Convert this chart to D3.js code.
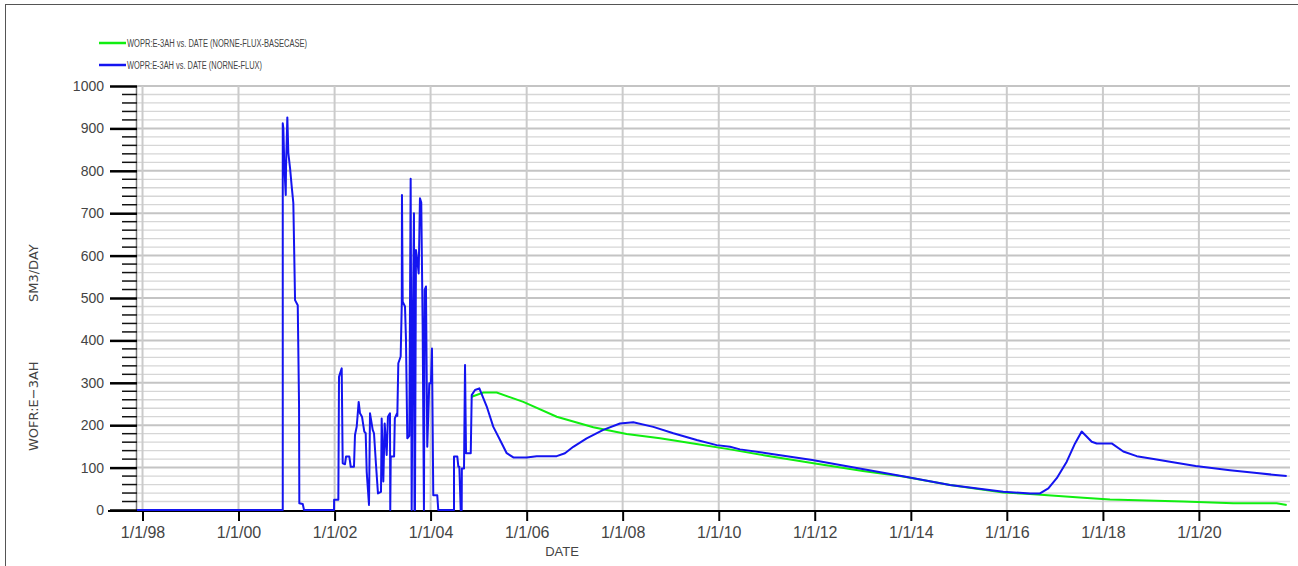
<!DOCTYPE html>
<html>
<head>
<meta charset="utf-8">
<script src="https://cdn.jsdelivr.net/npm/d3@7"></script>
<style>
  html, body { margin: 0; padding: 0; background: #fff; }
  svg { display: block; }
  .narrow { font-family: "Liberation Sans Narrow", "Arial Narrow", "Liberation Sans", sans-serif; }
</style>
</head>
<body>
<svg id="chart" width="1298" height="566"></svg>
<script>
// ---- data (decimal years, SM3/DAY) ----
const seriesNames = ["WOPR:E-3AH vs. DATE (NORNE-FLUX-BASECASE)", "WOPR:E-3AH vs. DATE (NORNE-FLUX)"];
const seriesColors = ["#10ee10", "#1414f0"];
const yLabelParts = ["WOFR:E\u22123AH", "SM3/DAY"];
const xLabelText = "DATE";
const xTickYears = [1998, 2000, 2002, 2004, 2006, 2008, 2010, 2012, 2014, 2016, 2018, 2020];
const yTickValues = [0, 100, 200, 300, 400, 500, 600, 700, 800, 900, 1000];
const xDomainYears = [1997.885, 2021.896];

const baseYears = [2004.855, 2005.097, 2005.376, 2005.930, 2006.626, 2007.388, 2008.083, 2008.777, 2009.470,
  2010.235, 2011.0, 2012.04, 2013.0, 2013.84, 2014.816, 2015.926, 2016.482, 2017.592, 2018.148, 2019.674,
  2020.715, 2021.619, 2021.827];
const baseValues = [267, 277, 277, 255, 220, 195, 179, 169, 157,
  143, 128, 109, 92, 79, 59, 41, 38, 29, 25, 20,
  16, 16, 12];

const fluxYears = [1997.885, 2000.920, 2000.920, 2000.932, 2000.953, 2000.982, 2000.988, 2001.015, 2001.036, 2001.072,
  2001.107, 2001.140, 2001.176, 2001.232, 2001.259, 2001.265, 2001.336, 2001.363, 2001.988, 2001.990,
  2002.078, 2002.092, 2002.113, 2002.148, 2002.169, 2002.217, 2002.238, 2002.307, 2002.336, 2002.404,
  2002.425, 2002.461, 2002.502, 2002.529, 2002.571, 2002.619, 2002.648, 2002.669, 2002.717, 2002.738,
  2002.794, 2002.821, 2002.863, 2002.904, 2002.967, 2002.981, 2003.015, 2003.044, 2003.085, 2003.112,
  2003.154, 2003.160, 2003.170, 2003.240, 2003.255, 2003.300, 2003.307, 2003.328, 2003.377, 2003.400,
  2003.404, 2003.419, 2003.467, 2003.487, 2003.515, 2003.557, 2003.585, 2003.596, 2003.606, 2003.627,
  2003.654, 2003.665, 2003.675, 2003.696, 2003.723, 2003.752, 2003.779, 2003.806, 2003.835, 2003.862,
  2003.877, 2003.904, 2003.931, 2003.973, 2004.008, 2004.029, 2004.056, 2004.139, 2004.160, 2004.487,
  2004.487, 2004.556, 2004.577, 2004.598, 2004.626, 2004.647, 2004.650, 2004.695, 2004.716, 2004.737,
  2004.835, 2004.855, 2004.924, 2005.014, 2005.168, 2005.305, 2005.445, 2005.584, 2005.722, 2006.000,
  2006.209, 2006.626, 2006.798, 2006.971, 2007.250, 2007.596, 2007.944, 2008.221, 2008.637, 2009.054,
  2009.541, 2009.957, 2010.235, 2010.443, 2011.0, 2011.948, 2013.947, 2014.816, 2015.926, 2016.482,
  2016.690, 2016.863, 2017.038, 2017.246, 2017.419, 2017.558, 2017.767, 2017.871, 2018.183, 2018.425,
  2018.704, 2019.120, 2019.397, 2019.932, 2020.646, 2021.203, 2021.827];
const fluxValues = [0, 0, 912, 900, 810, 743, 810, 926, 842, 806,
  762, 724, 495, 483, 248, 16, 14, 0, 0, 24,
  24, 314, 322, 334, 110, 108, 126, 126, 102, 102,
  177, 197, 255, 228, 220, 185, 181, 90, 12, 228,
  189, 181, 106, 39, 43, 216, 67, 204, 130, 220,
  228, 0, 126, 126, 216, 228, 222, 346, 362, 487,
  743, 491, 480, 405, 169, 175, 781, 401, 0, 401,
  700, 0, 0, 613, 590, 558, 735, 725, 432, 0,
  519, 527, 149, 299, 299, 381, 35, 35, 0, 0,
  126, 126, 102, 102, 0, 0, 98, 98, 342, 134,
  134, 271, 283, 287, 244, 196, 165, 134, 124, 124,
  127, 127, 134, 149, 169, 189, 204, 207, 196, 181,
  165, 153, 149, 143, 134, 118, 77, 59, 43, 39,
  39, 51, 75, 114, 157, 185, 161, 157, 157, 138,
  127, 119, 114, 104, 94, 87, 80];

// ---- helpers ----
function yearToDate(y) {
  const yr = Math.floor(y);
  const start = new Date(yr, 0, 1), end = new Date(yr + 1, 0, 1);
  return new Date(start.getTime() + (y - yr) * (end - start));
}

const svg = d3.select("#chart");
const plot = { left: 137, right: 1290, top: 86, bottom: 510 };

const x = d3.scaleTime()
  .domain(xDomainYears.map(yearToDate))
  .range([plot.left, plot.right]);
const y = d3.scaleLinear().domain([0, 1000]).range([plot.bottom, plot.top]);

// frame lines (top & left)
svg.append("line").attr("x1", 5).attr("y1", 4.5).attr("x2", 1298).attr("y2", 4.5)
  .attr("stroke", "#555").attr("stroke-width", 1);
svg.append("line").attr("x1", 5.5).attr("y1", 4).attr("x2", 5.5).attr("y2", 566)
  .attr("stroke", "#555").attr("stroke-width", 1);

// horizontal grid (every 20)
const gridY = d3.range(20, 1001, 20);
svg.append("g").selectAll("line").data(gridY).join("line")
  .attr("x1", plot.left).attr("x2", plot.right)
  .attr("y1", d => y(d)).attr("y2", d => y(d))
  .attr("stroke", d => d % 100 === 0 ? "#c4c4c4" : "#d6d6d6")
  .attr("stroke-width", d => d % 100 === 0 ? 2 : 1.3);

// vertical grid
const xTickDates = xTickYears.map(v => new Date(v, 0, 1));
svg.append("g").selectAll("line").data(xTickDates).join("line")
  .attr("x1", d => x(d)).attr("x2", d => x(d))
  .attr("y1", plot.top).attr("y2", plot.bottom)
  .attr("stroke", "#cbcbcb").attr("stroke-width", 2);

// y axis line
svg.append("line").attr("x1", plot.left - 0.5).attr("x2", plot.left - 0.5)
  .attr("y1", plot.top).attr("y2", plot.bottom)
  .attr("stroke", "#777").attr("stroke-width", 1.5);

// y axis: minor ticks
const yMinor = d3.range(20, 1000, 20).filter(v => v % 100 !== 0);
svg.append("g").selectAll("line").data(yMinor).join("line")
  .attr("x1", 122).attr("x2", plot.left)
  .attr("y1", d => y(d)).attr("y2", d => y(d))
  .attr("stroke", "#111").attr("stroke-width", 1.5);

// y axis: major ticks and labels
const yAxis = d3.axisLeft(y).tickValues(yTickValues).tickSize(plot.left - 110).tickPadding(6).tickFormat(d3.format("d"));
const gy = svg.append("g").attr("transform", `translate(${plot.left},0)`).call(yAxis);
gy.select(".domain").remove();
gy.selectAll(".tick line").attr("stroke", "#000").attr("stroke-width", 2.5);
gy.selectAll(".tick text").attr("class", "narrow").attr("font-size", 14).attr("fill", "#444");

// x axis
const xAxis = d3.axisBottom(x).tickValues(xTickDates).tickSize(10).tickPadding(6)
  .tickFormat(d3.timeFormat("%-m/%-d/%y"));
const gx = svg.append("g").attr("transform", `translate(0,${plot.bottom + 1})`).call(xAxis);
gx.select(".domain").remove();
gx.selectAll(".tick line").attr("stroke", "#000").attr("stroke-width", 2);
gx.selectAll(".tick text").attr("class", "narrow").attr("font-size", 16).attr("fill", "#444");
svg.append("line").attr("x1", 108).attr("x2", plot.right)
  .attr("y1", plot.bottom + 1).attr("y2", plot.bottom + 1)
  .attr("stroke", "#000").attr("stroke-width", 2);

// axis titles
svg.append("text").attr("class", "narrow").attr("x", 562).attr("y", 556)
  .attr("text-anchor", "middle").attr("font-size", 13).attr("fill", "#444").text(xLabelText);
const yLabelStarts = [451, 302];
yLabelParts.forEach((t, i) => {
  svg.append("text")
    .attr("transform", `translate(38,${yLabelStarts[i]}) rotate(-90)`)
    .attr("text-anchor", "start").attr("font-family", "DejaVu Sans, sans-serif")
    .attr("font-size", 13).attr("fill", "#444")
    .text(t);
});

// lines
const line = d3.line().x(d => x(yearToDate(d[0]))).y(d => y(d[1]));
const baseData = d3.zip(baseYears, baseValues);
const fluxData = d3.zip(fluxYears, fluxValues);
svg.append("path").datum(baseData).attr("d", line)
  .attr("fill", "none").attr("stroke", seriesColors[0]).attr("stroke-width", 2);
svg.append("path").datum(fluxData).attr("d", line)
  .attr("fill", "none").attr("stroke", seriesColors[1]).attr("stroke-width", 2)
  .attr("stroke-linejoin", "round");

// legend
const legendY = [43, 65];
const legendLen = [180, 135];
const lg = svg.append("g");
seriesNames.forEach((name, i) => {
  lg.append("line").attr("x1", 99).attr("x2", 126).attr("y1", legendY[i]).attr("y2", legendY[i])
    .attr("stroke", seriesColors[i]).attr("stroke-width", 2.5);
  lg.append("text").attr("class", "narrow").attr("x", 127).attr("y", legendY[i] + 3.5)
    .attr("font-size", 10).attr("fill", "#444")
    .attr("textLength", legendLen[i]).attr("lengthAdjust", "spacingAndGlyphs")
    .text(name);
});
</script>
</body>
</html>
